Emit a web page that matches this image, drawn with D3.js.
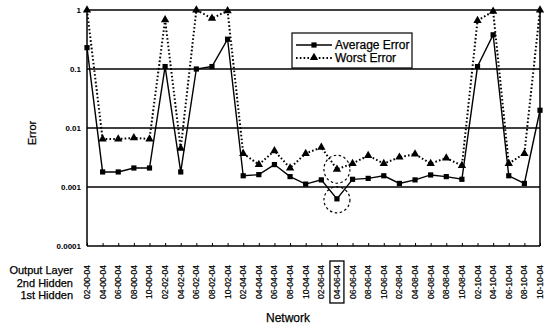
<!DOCTYPE html>
<html><head><meta charset="utf-8">
<script src="https://cdn.jsdelivr.net/npm/d3@7"></script>
<style>
html,body{margin:0;padding:0;background:#fff;}
svg{display:block;font-family:"Liberation Sans",Arial,sans-serif;}
</style></head>
<body><svg id="c" width="552" height="327"></svg>
<script>
const categories = ["02-00-04","04-00-04","06-00-04","08-00-04","10-00-04",
"02-02-04","04-02-04","06-02-04","08-02-04","10-02-04",
"02-04-04","04-04-04","06-04-04","08-04-04","10-04-04",
"02-06-04","04-06-04","06-06-04","08-06-04","10-06-04",
"02-08-04","04-08-04","06-08-04","08-08-04","10-08-04",
"02-10-04","04-10-04","06-10-04","08-10-04","10-10-04"];
const averageError = [0.23,0.0018,0.0018,0.0021,0.0021,
0.11,0.0018,0.10,0.11,0.32,
0.00155,0.00162,0.0024,0.0015,0.00112,
0.00132,0.00063,0.00135,0.0014,0.00155,
0.00115,0.00132,0.0016,0.0015,0.00135,
0.11,0.38,0.00155,0.00115,0.02];
const worstError = [1,0.0065,0.0065,0.0068,0.0065,
0.68,0.0045,1,0.72,0.97,
0.0037,0.0024,0.0041,0.0021,0.0037,
0.0047,0.0020,0.0025,0.0034,0.0025,
0.0032,0.0036,0.0025,0.0031,0.0023,
0.66,0.95,0.0025,0.0037,1];
const yTicks = [1,0.1,0.01,0.001,0.0001];
const yTickLabels = ["1","0.1","0.01","0.001","0.0001"];
const rowLabels = ["Output Layer","2nd Hidden","1st Hidden"];
const seriesNames = ["Average Error","Worst Error"];
const highlighted = "04-06-04";

const svg = d3.select("#c");
const x = d3.scalePoint().domain(categories).range([87,540]);
const y = d3.scaleLog().domain([0.0001,1]).range([246,10]);

// gridlines
svg.append("g").selectAll("line").data(yTicks).join("line")
  .attr("x1",87).attr("x2",540).attr("y1",d=>y(d)).attr("y2",d=>y(d))
  .attr("stroke","#000").attr("stroke-width",1.5);
// frame
svg.append("line").attr("x1",87).attr("x2",87).attr("y1",y(1)).attr("y2",y(0.0001)).attr("stroke","#000").attr("stroke-width",1.5);
svg.append("line").attr("x1",540).attr("x2",540).attr("y1",y(1)).attr("y2",y(0.0001)).attr("stroke","#000").attr("stroke-width",1.5);

// y axis labels
const yAxis = d3.axisLeft(y).tickValues(yTicks).tickSize(0).tickPadding(6)
  .tickFormat((d,i)=>yTickLabels[i]);
const ya = svg.append("g").attr("transform","translate(87,0)").call(yAxis);
ya.select(".domain").remove();
ya.selectAll("text").attr("font-size",8).attr("fill","#000").attr("font-weight","bold");

// x axis ticks
const xAxis = d3.axisBottom(x).tickSize(-3).tickFormat("");
const xa = svg.append("g").attr("transform","translate(0,246)").call(xAxis);
xa.select(".domain").remove();
xa.selectAll("line").attr("stroke","#000");

// x tick labels rotated
const lab = svg.append("g");
lab.selectAll("text").data(categories).join("text")
  .attr("transform",d=>`translate(${x(d)},282) rotate(-90)`)
  .attr("text-anchor","middle").attr("dy","0.35em")
  .attr("font-size",8.5).attr("fill","#000").attr("stroke","#000").attr("stroke-width",0.2).text(d=>d);
// highlighted box
const hx = x(highlighted);
svg.append("rect").attr("x",hx-7).attr("y",261).attr("width",14).attr("height",42)
  .attr("fill","none").attr("stroke","#000").attr("stroke-width",1.3);

// row labels
svg.append("g").selectAll("text").data(rowLabels).join("text")
  .attr("x",73).attr("y",(d,i)=>274+i*12.5).attr("text-anchor","end")
  .attr("font-size",11).attr("fill","#000").attr("stroke","#000").attr("stroke-width",0.25).text(d=>d);

// axis titles
svg.append("text").attr("x",288).attr("y",322).attr("text-anchor","middle")
  .attr("font-size",12).attr("fill","#000").attr("stroke","#000").attr("stroke-width",0.25).text("Network");
svg.append("text").attr("transform","translate(36,133) rotate(-90)")
  .attr("text-anchor","middle").attr("font-size",11).attr("fill","#000").attr("stroke","#000").attr("stroke-width",0.25).text("Error");

// lines
const line = d3.line().x((d,i)=>x(categories[i])).y(d=>y(d));
svg.append("path").datum(worstError).attr("d",line).attr("fill","none")
  .attr("stroke","#000").attr("stroke-width",2).attr("stroke-dasharray","1.6,2.2");
svg.append("path").datum(averageError).attr("d",line).attr("fill","none")
  .attr("stroke","#000").attr("stroke-width",1.4);

const tri = d3.symbol().type(d3.symbolTriangle).size(30);
svg.append("g").selectAll("path").data(worstError).join("path")
  .attr("d",tri).attr("transform",(d,i)=>`translate(${x(categories[i])},${y(d)})`).attr("fill","#000");
svg.append("g").selectAll("rect").data(averageError).join("rect")
  .attr("x",(d,i)=>x(categories[i])-2.6).attr("y",d=>y(d)-2.6)
  .attr("width",5.2).attr("height",5.2).attr("fill","#000");

// dashed circles around highlighted points
const hi = categories.indexOf(highlighted);
svg.append("ellipse").attr("cx",hx).attr("cy",y(worstError[hi])).attr("rx",13).attr("ry",14)
  .attr("fill","none").attr("stroke","#000").attr("stroke-width",1.2).attr("stroke-dasharray","2.5,2.5");
svg.append("ellipse").attr("cx",hx).attr("cy",y(averageError[hi])+1).attr("rx",13).attr("ry",13)
  .attr("fill","none").attr("stroke","#000").attr("stroke-width",1.2).attr("stroke-dasharray","2.5,2.5");

// legend
const lg = svg.append("g");
lg.append("rect").attr("x",292).attr("y",33).attr("width",120).attr("height",35)
  .attr("fill","#fff").attr("stroke","#000").attr("stroke-width",1.2);
lg.append("line").attr("x1",296).attr("x2",332).attr("y1",45).attr("y2",45).attr("stroke","#000").attr("stroke-width",1.4);
lg.append("rect").attr("x",311.4).attr("y",42.4).attr("width",5.2).attr("height",5.2).attr("fill","#000");
lg.append("line").attr("x1",296).attr("x2",332).attr("y1",58).attr("y2",58).attr("stroke","#000").attr("stroke-width",2).attr("stroke-dasharray","1.6,2.2");
lg.append("path").attr("d",tri).attr("transform","translate(314,57.5)").attr("fill","#000");
lg.selectAll("text.lt").data(seriesNames).join("text").attr("class","lt")
  .attr("x",335).attr("y",(d,i)=>45+i*13).attr("dy","0.35em")
  .attr("font-size",12).attr("fill","#000").attr("stroke","#000").attr("stroke-width",0.25).text(d=>d);
</script></body></html>
